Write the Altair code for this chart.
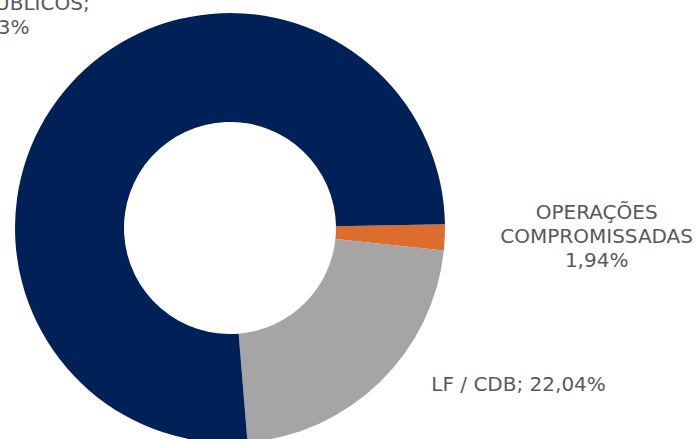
import altair as alt
import pandas as pd
import math

categories = ["OPERAÇÕES COMPROMISSADAS", "LF / CDB", "TÍTULOS PÚBLICOS"]
values = [1.94, 22.04, 76.02]
labels = [["OPERAÇÕES", "COMPROMISSADAS", "1,94%"], ["LF / CDB; 22,04%"], ["TÍTULOS PÚBLICOS;", "76,03%"]]
colors = ["#DD6C2F", "#A5A5A5", "#002157"]

df = pd.DataFrame({"cat": categories, "val": values, "label": labels, "order": [0, 1, 2]})

start = math.radians(89.0)
theta_scale = alt.Scale(domain=[0, 100], range=[start, start + 2 * math.pi])

CX, CY = 230, 228

base = alt.Chart(df).transform_stack(
    stack="val", groupby=[], as_=["v0", "v1"], sort=[alt.SortField("order", order="ascending")]
).transform_calculate(mid="(datum.v0 + datum.v1) / 2")

arcs = base.mark_arc(innerRadius=106, outerRadius=215).encode(
    theta=alt.Theta("v0:Q", scale=theta_scale),
    theta2="v1:Q",
    color=alt.Color("cat:N", scale=alt.Scale(domain=categories, range=colors), legend=None),
    x=alt.value(CX),
    y=alt.value(CY),
)

def lab(cat, r, dx, dy):
    return base.transform_filter(alt.datum.cat == cat).mark_text(
        font="DejaVu Sans", fontSize=20, color="#595959", align="center",
        baseline="middle", lineHeight=24, radius=r, dx=dx, dy=dy,
    ).encode(
        theta=alt.Theta("mid:Q", scale=theta_scale),
        text="label", x=alt.value(CX), y=alt.value(CY),
    )

chart = alt.layer(
    arcs,
    lab(categories[0], 367, 0, -31),
    lab(categories[1], 327, 60, -77),
    lab(categories[2], 314, -6, -13),
).properties(width=697, height=439, padding=0, autosize=alt.AutoSizeParams(type="none")).configure_view(stroke=None)

chart.save("out.html", embed_options={"renderer": "svg", "actions": False})
